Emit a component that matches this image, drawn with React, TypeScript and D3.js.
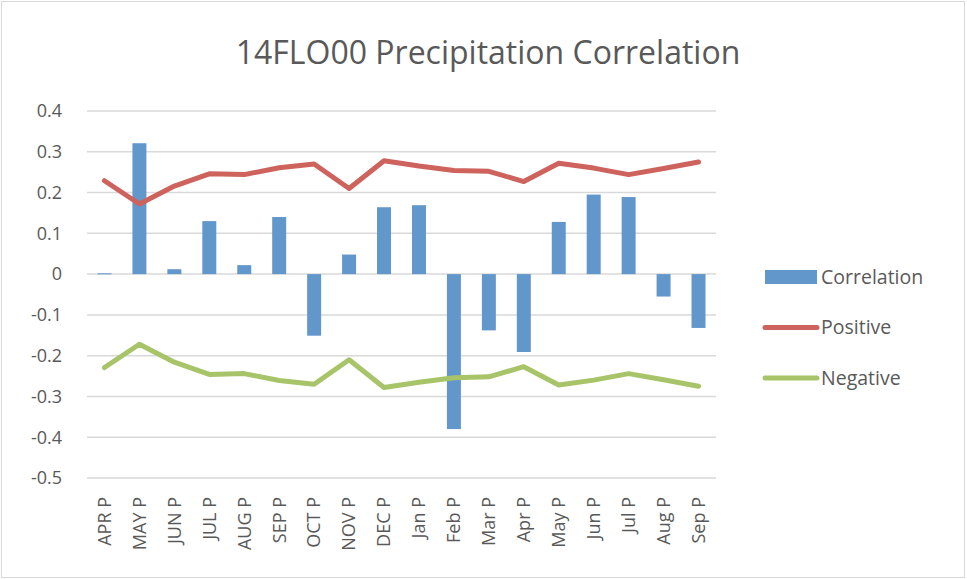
import * as d3 from 'd3'
import React from 'react'

const categories = [
    'APR P', 'MAY P', 'JUN P', 'JUL P', 'AUG P', 'SEP P', 'OCT P', 'NOV P', 'DEC P',
    'Jan P', 'Feb P', 'Mar P', 'Apr P', 'May P', 'Jun P', 'Jul P', 'Aug P', 'Sep P',
]
const correlation = [
    0.002, 0.321, 0.012, 0.13, 0.022, 0.14, -0.151, 0.048, 0.164,
    0.169, -0.38, -0.138, -0.191, 0.128, 0.195, 0.189, -0.055, -0.132,
]
const positive = [
    0.229, 0.172, 0.216, 0.246, 0.244, 0.261, 0.27, 0.21, 0.278,
    0.265, 0.254, 0.252, 0.227, 0.272, 0.26, 0.244, 0.259, 0.275,
]
const negative = [
    -0.229, -0.172, -0.216, -0.246, -0.244, -0.261, -0.27, -0.21, -0.278,
    -0.265, -0.254, -0.252, -0.227, -0.272, -0.26, -0.244, -0.259, -0.275,
]
const yTicks = [0.4, 0.3, 0.2, 0.1, 0, -0.1, -0.2, -0.3, -0.4, -0.5]

const W = 967
const H = 579
const font = '"Open Sans", sans-serif'
const textColor = '#595959'
const colors = { bar: '#6197CB', pos: '#CD635C', neg: '#A8C468' }

const App = (): JSX.Element => {
    const x = d3.scaleBand<string>().domain(categories).range([87, 716])
    const y = d3.scaleLinear().domain([-0.5, 0.4]).range([478, 111])
    const bw = x.bandwidth() / 2.5
    const cx = (c: string) => (x(c) as number) + x.bandwidth() / 2

    const line = d3
        .line<number>()
        .x((d, i) => cx(categories[i]))
        .y((d) => y(d))

    const legend = [
        { label: 'Correlation', type: 'bar', color: colors.bar },
        { label: 'Positive', type: 'line', color: colors.pos },
        { label: 'Negative', type: 'line', color: colors.neg },
    ]

    return (
        <svg
            width={W}
            height={H}
            style={{ position: 'absolute', left: 0, top: 0, background: '#fff' }}
            fontFamily={font}
        >
            <rect x={1.5} y={1.5} width={W - 4} height={H - 3} fill="#fff" stroke="#d9d9d9" />
            <text x={488} y={64} textAnchor="middle" fontSize={32} fill={textColor}>
                14FLO00 Precipitation Correlation
            </text>

            {/* grid + y labels */}
            {yTicks.map((t) => (
                <g key={t}>
                    <line x1={87} x2={716} y1={y(t)} y2={y(t)} stroke="#d9d9d9" strokeWidth={1.5} />
                    <text x={62} y={y(t)} dy="0.35em" textAnchor="end" fontSize={18} fill={textColor}>
                        {t === 0 ? '0' : t.toFixed(1)}
                    </text>
                </g>
            ))}

            {/* bars */}
            {correlation.map((v, i) => (
                <rect
                    key={categories[i]}
                    x={cx(categories[i]) - bw / 2}
                    y={Math.min(y(v), y(0))}
                    width={bw}
                    height={Math.max(Math.abs(y(v) - y(0)), 1)}
                    fill={colors.bar}
                />
            ))}

            <path d={line(positive) || ''} fill="none" stroke={colors.pos} strokeWidth={5} strokeLinejoin="round" strokeLinecap="round" />
            <path d={line(negative) || ''} fill="none" stroke={colors.neg} strokeWidth={5} strokeLinejoin="round" strokeLinecap="round" />

            {/* x labels */}
            {categories.map((c) => (
                <text
                    key={c}
                    transform={`translate(${cx(c)},497) rotate(-90)`}
                    dy="0.35em"
                    textAnchor="end"
                    fontSize={18}
                    fill={textColor}
                >
                    {c}
                </text>
            ))}

            {/* legend */}
            {legend.map((l, i) => {
                const ly = 277 + i * 50.5
                return (
                    <g key={l.label}>
                        {l.type === 'bar' ? (
                            <rect x={765} y={ly - 7} width={52} height={14} fill={l.color} />
                        ) : (
                            <line x1={765} x2={817} y1={ly} y2={ly} stroke={l.color} strokeWidth={5} strokeLinecap="round" />
                        )}
                        <text x={821} y={ly} dy="0.35em" fontSize={19.5} fill={textColor}>
                            {l.label}
                        </text>
                    </g>
                )
            })}
        </svg>
    )
}

export default App
